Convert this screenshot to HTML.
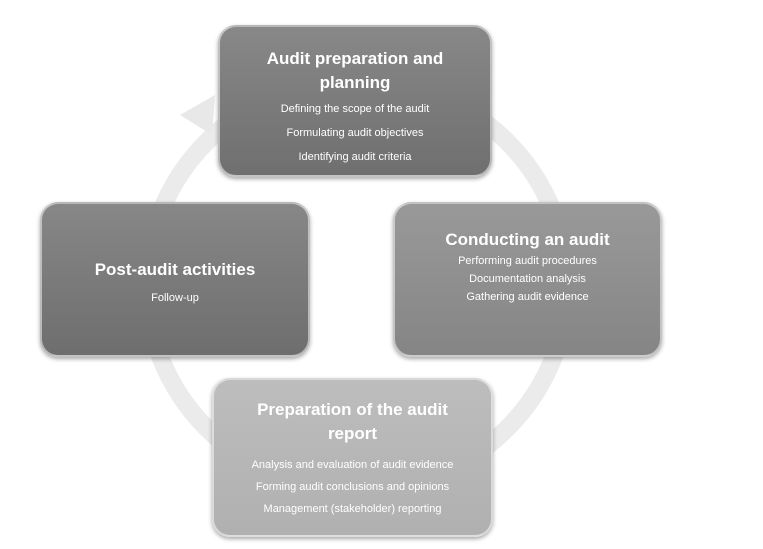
<!DOCTYPE html>
<html><head><style>
body{margin:0;width:763px;height:549px;background:#fff;position:relative;overflow:hidden;font-family:"Liberation Sans",sans-serif}
.b{position:absolute;border-radius:18px;color:#fff;text-align:center;box-sizing:border-box;display:flex;flex-direction:column;justify-content:center;border:2px solid rgba(255,255,255,.5);box-shadow:0 2px 4px rgba(0,0,0,.35)}
.t{font-weight:bold;font-size:17px;line-height:24px}
.s{font-size:11px;line-height:24px}
</style></head><body>
<svg width="763" height="549" style="position:absolute;left:0;top:0">
<ellipse cx="357" cy="285" rx="210" ry="205" fill="none" stroke="#ebebeb" stroke-width="18"/>
<polygon points="180,115 215,95 212,135" fill="#e8e8e8"/>
</svg>
<div class="b" style="left:218px;top:25px;width:274px;height:152px;background:linear-gradient(#888,#6f6f6f);justify-content:flex-start;padding-top:20px">
<div class="t">Audit preparation and<br>planning</div>
<div class="s" style="margin-top:2px">Defining the scope of the audit<br>Formulating audit objectives<br>Identifying audit criteria</div></div>
<div class="b" style="left:40px;top:202px;width:270px;height:155px;background:linear-gradient(#878787,#6e6e6e);justify-content:flex-start;padding-top:54px">
<div class="t">Post-audit activities</div>
<div class="s" style="margin-top:4px">Follow-up</div></div>
<div class="b" style="left:393px;top:202px;width:269px;height:155px;background:linear-gradient(#999,#858585);justify-content:flex-start;padding-top:24px">
<div class="t">Conducting an audit</div>
<div class="s" style="line-height:18px">Performing audit procedures<br>Documentation analysis<br>Gathering audit evidence</div></div>
<div class="b" style="left:212px;top:378px;width:281px;height:159px;background:linear-gradient(#bdbdbd,#b0b0b0);justify-content:flex-start;padding-top:18px">
<div class="t">Preparation of the audit<br>report</div>
<div class="s" style="line-height:22px;margin-top:8px">Analysis and evaluation of audit evidence<br>Forming audit conclusions and opinions<br>Management (stakeholder) reporting</div></div>
</body></html>
